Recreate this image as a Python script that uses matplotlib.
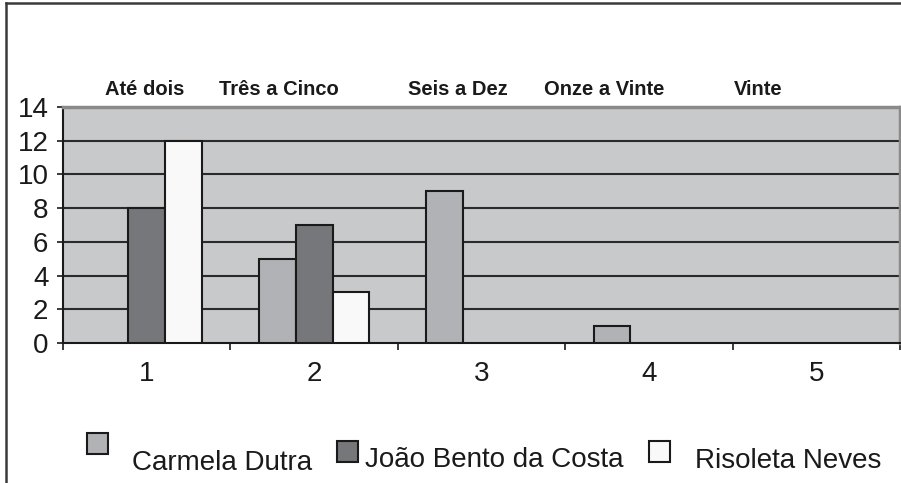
import numpy as np
import matplotlib.pyplot as plt
from matplotlib.patches import Rectangle
from matplotlib.lines import Line2D

plt.rcParams['font.family'] = ['Liberation Sans', 'DejaVu Sans']

grupos = [1, 2, 3, 4, 5]
faixas = ["Até dois", "Três a Cinco", "Seis a Dez", "Onze a Vinte", "Vinte"]
carmela = [0, 5, 9, 1, 0]
joao = [8, 7, 0, 0, 0]
risoleta = [12, 3, 0, 0, 0]
nomes = ["Carmela Dutra", "João Bento da Costa", "Risoleta Neves"]

cores = ["#b1b2b5", "#76777a", "#f9f9f9"]
W, H = 901, 483


def fx(px):
    return px / W


def fy(py):
    return 1 - py / H


fig = plt.figure(figsize=(9.01, 4.83), dpi=100)
ax = fig.add_axes([fx(63), fy(343), (900 - 63) / W, (343 - 107) / H])
ax.set_facecolor("#c8c9cb")

x = np.array(grupos, dtype=float)
larg = 0.22
for k, serie in enumerate([carmela, joao, risoleta]):
    v = np.array(serie)
    m = v > 0
    ax.bar(x[m] + (k - 1) * larg, v[m], width=larg, color=cores[k],
           edgecolor="#1a1a1a", linewidth=1.5, zorder=3)

ax.set_xlim(0.5, 5.5)
ax.set_ylim(0, 14)
ax.set_yticks(np.arange(0, 15, 2))
for yv in range(2, 14, 2):
    ax.axhline(yv, color="#2a2a2a", linewidth=1.5, zorder=1)

# ticks nas divisões, rótulos no centro dos grupos
ax.set_xticks(np.arange(0.5, 6, 1))
ax.set_xticklabels([])
ax.set_xticks(x, minor=True)
ax.set_xticklabels([str(g) for g in grupos], minor=True)
ax.tick_params(axis="x", which="major", length=5, width=1.2, color="#1a1a1a")
ax.tick_params(axis="x", which="minor", length=0, pad=13, labelsize=20,
               labelcolor="#1a1a1a")
ax.tick_params(axis="y", length=4.5, width=1.2, pad=6, labelsize=20,
               color="#1a1a1a", labelcolor="#1a1a1a")

for s in ["left", "bottom"]:
    ax.spines[s].set_color("#1a1a1a")
    ax.spines[s].set_linewidth(1.5)
for s in ["top", "right"]:
    ax.spines[s].set_color("#8a8a8a")
    ax.spines[s].set_linewidth(2.5)

pos_faixas = [0.987, 1.79, 2.857, 3.73, 4.655]
for px_, t in zip(pos_faixas, faixas):
    ax.text(px_, 14.7, t, ha="center", va="baseline", fontsize=14.5,
            fontweight="bold", color="#1a1a1a", clip_on=False)

# legenda
quadros = [(87, 433), (337, 441), (649, 441)]
textos = [(132, 470), (365, 467), (695, 468)]
lado = 21
for (qx, qy), (tx, ty), c, n in zip(quadros, textos, cores, nomes):
    fig.add_artist(Rectangle((fx(qx), fy(qy + lado)), lado / W, lado / H,
                             transform=fig.transFigure, facecolor=c,
                             edgecolor="#1a1a1a", linewidth=1.5))
    fig.text(fx(tx), fy(ty), n, fontsize=20, va="baseline", ha="left",
             color="#1a1a1a")

# moldura
fig.add_artist(Line2D([fx(6), fx(6)], [fy(3), 0], transform=fig.transFigure,
                      color="#3a3a3a", linewidth=1.8))
fig.add_artist(Line2D([fx(6), 1], [fy(3), fy(3)], transform=fig.transFigure,
                      color="#3a3a3a", linewidth=1.8))

fig.savefig("out.png", dpi=100, facecolor="white")
